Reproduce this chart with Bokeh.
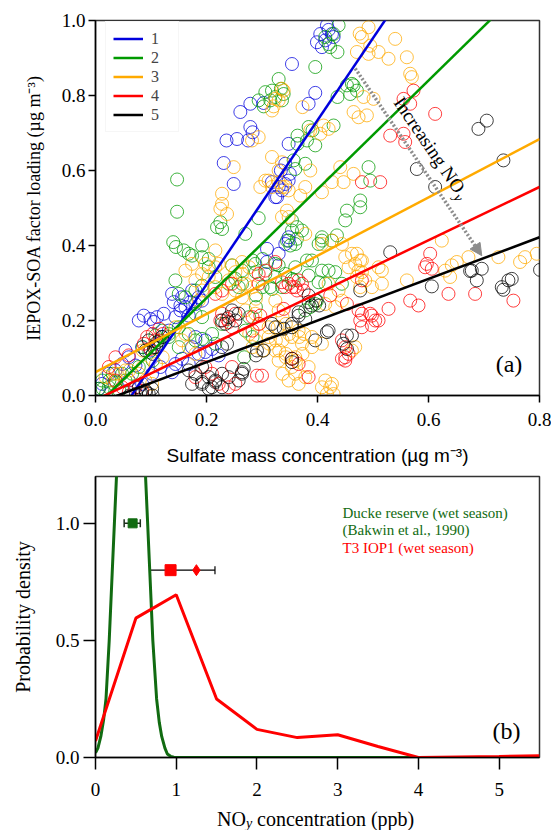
from bokeh.embed import file_html
from bokeh.layouts import column
from bokeh.models import (Arrow, ColumnDataSource, FixedTicker, Label, Legend,
                          LegendItem, NormalHead, PrintfTickFormatter, TeeHead,
                          Whisker)
from bokeh.plotting import figure
from bokeh.resources import INLINE

SERIF = "Liberation Serif"
SANS = "Liberation Sans"

# ---------------- panel (a) data ----------------
group_labels = ["1", "2", "3", "4", "5"]
group_colors = ["#0000dd", "#009a00", "#ffaa00", "#ff0000", "#000000"]

# fitted line per group: y = slope * x + intercept
fit_slope = [2.19, 1.45, 0.777, 0.71, 0.555]
fit_intercept = [-0.142, -0.03, 0.062, -0.012, -0.022]

# (sulfate, IEPOX-SOA) points
group1 = [
    (0.417, 0.987), (0.405, 0.964), (0.426, 0.964), (0.399, 0.942), (0.414, 0.947),
    (0.429, 0.956), (0.408, 0.929), (0.420, 0.975), (0.354, 0.884), (0.396, 0.807),
    (0.384, 0.778), (0.261, 0.756), (0.279, 0.778), (0.303, 0.780), (0.236, 0.680),
    (0.255, 0.684), (0.279, 0.716), (0.275, 0.680), (0.283, 0.702), (0.231, 0.620),
    (0.249, 0.564), (0.327, 0.529), (0.348, 0.671), (0.342, 0.618), (0.334, 0.600),
    (0.350, 0.591), (0.318, 0.569), (0.330, 0.556), (0.342, 0.564), (0.336, 0.547),
    (0.348, 0.573), (0.324, 0.529), (0.348, 0.422), (0.342, 0.404), (0.309, 0.391),
    (0.330, 0.378), (0.309, 0.356), (0.348, 0.413), (0.087, 0.213), (0.099, 0.204),
    (0.111, 0.209), (0.105, 0.196), (0.123, 0.218), (0.078, 0.200), (0.141, 0.249),
    (0.153, 0.240), (0.162, 0.236), (0.171, 0.249), (0.180, 0.244), (0.153, 0.227),
    (0.168, 0.213), (0.138, 0.271), (0.054, 0.120), (0.060, 0.102), (0.048, 0.084),
    (0.072, 0.080), (0.036, 0.067), (0.024, 0.058), (0.012, 0.031), (0.006, 0.018),
    (0.084, 0.129), (0.099, 0.120), (0.114, 0.138), (0.120, 0.156), (0.132, 0.173),
    (0.174, 0.129), (0.186, 0.111), (0.198, 0.116), (0.210, 0.124), (0.222, 0.107),
    (0.198, 0.147), (0.180, 0.156), (0.156, 0.098), (0.144, 0.084), (0.168, 0.084),
    (0.138, 0.062), (0.117, 0.076), (0.102, 0.058), (0.060, 0.040), (0.084, 0.031),
    (0.156, 0.262), (0.174, 0.280), (0.192, 0.253), (0.186, 0.262), (0.144, 0.209),
]
group2 = [
    (0.438, 0.987), (0.429, 0.964), (0.420, 0.937), (0.436, 0.916), (0.414, 0.956),
    (0.423, 0.929), (0.396, 0.876), (0.330, 0.844), (0.318, 0.813), (0.334, 0.818),
    (0.324, 0.796), (0.339, 0.804), (0.336, 0.787), (0.306, 0.809), (0.294, 0.787),
    (0.303, 0.771), (0.315, 0.787), (0.436, 0.796), (0.453, 0.827), (0.459, 0.804),
    (0.465, 0.827), (0.471, 0.813), (0.462, 0.831), (0.391, 0.707), (0.364, 0.693),
    (0.396, 0.667), (0.381, 0.680), (0.364, 0.671), (0.429, 0.720), (0.384, 0.716),
    (0.357, 0.627), (0.360, 0.604), (0.378, 0.618), (0.492, 0.609), (0.495, 0.573),
    (0.477, 0.520), (0.477, 0.502), (0.453, 0.493), (0.450, 0.467), (0.147, 0.576),
    (0.147, 0.490), (0.219, 0.449), (0.228, 0.444), (0.225, 0.462), (0.294, 0.473),
    (0.270, 0.431), (0.140, 0.409), (0.145, 0.396), (0.159, 0.387), (0.192, 0.400),
    (0.168, 0.378), (0.174, 0.373), (0.192, 0.369), (0.204, 0.364), (0.354, 0.467),
    (0.372, 0.440), (0.363, 0.418), (0.345, 0.413), (0.408, 0.422), (0.435, 0.427),
    (0.402, 0.404), (0.354, 0.440), (0.363, 0.449), (0.351, 0.400), (0.360, 0.404),
    (0.408, 0.413), (0.426, 0.413), (0.144, 0.307), (0.150, 0.271), (0.162, 0.262),
    (0.180, 0.280), (0.192, 0.293), (0.204, 0.342), (0.216, 0.316), (0.252, 0.311),
    (0.264, 0.298), (0.246, 0.347), (0.264, 0.333), (0.240, 0.298), (0.258, 0.289),
    (0.288, 0.351), (0.306, 0.324), (0.315, 0.289), (0.324, 0.351), (0.283, 0.360),
    (0.301, 0.364), (0.289, 0.329), (0.330, 0.347), (0.324, 0.316), (0.342, 0.324),
    (0.354, 0.311), (0.301, 0.289), (0.318, 0.284), (0.289, 0.267), (0.336, 0.289),
    (0.390, 0.360), (0.408, 0.333), (0.420, 0.333), (0.432, 0.329), (0.384, 0.320),
    (0.402, 0.302), (0.414, 0.298), (0.444, 0.298), (0.381, 0.360), (0.360, 0.342),
    (0.357, 0.307), (0.387, 0.236), (0.378, 0.227), (0.396, 0.244), (0.399, 0.253),
    (0.289, 0.236), (0.277, 0.209), (0.270, 0.173), (0.283, 0.156), (0.268, 0.102),
    (0.120, 0.173), (0.108, 0.160), (0.132, 0.156), (0.150, 0.182), (0.168, 0.164),
    (0.180, 0.147), (0.192, 0.151), (0.210, 0.164), (0.228, 0.191), (0.216, 0.138),
    (0.150, 0.129), (0.180, 0.218), (0.192, 0.209), (0.085, 0.129), (0.097, 0.116),
    (0.115, 0.147), (0.132, 0.164), (0.103, 0.093), (0.013, 0.018), (0.025, 0.040),
    (0.037, 0.036), (0.019, 0.004), (0.043, 0.013), (0.031, 0.058), (0.012, 0.040),
    (0.024, 0.022), (0.006, 0.018), (0.048, 0.058), (0.066, 0.058), (0.054, 0.040),
    (0.078, 0.076),
]
group3 = [
    (0.492, 0.982), (0.480, 0.956), (0.495, 0.933), (0.471, 0.916), (0.492, 0.911),
    (0.510, 0.916), (0.528, 0.898), (0.540, 0.951), (0.561, 0.902), (0.567, 0.858),
    (0.570, 0.849), (0.476, 0.965), (0.483, 0.796), (0.501, 0.791), (0.465, 0.756),
    (0.474, 0.742), (0.489, 0.747), (0.373, 0.769), (0.411, 0.720), (0.405, 0.698),
    (0.420, 0.711), (0.387, 0.707), (0.387, 0.600), (0.441, 0.609), (0.426, 0.569),
    (0.447, 0.569), (0.465, 0.591), (0.408, 0.542), (0.378, 0.556), (0.369, 0.533),
    (0.339, 0.813), (0.342, 0.556), (0.345, 0.493), (0.348, 0.476), (0.378, 0.431),
    (0.426, 0.413), (0.408, 0.404), (0.336, 0.818), (0.330, 0.787), (0.321, 0.771),
    (0.294, 0.689), (0.282, 0.680), (0.249, 0.609), (0.228, 0.538), (0.318, 0.636),
    (0.306, 0.573), (0.297, 0.556), (0.330, 0.569), (0.318, 0.556), (0.324, 0.791),
    (0.318, 0.760), (0.228, 0.511), (0.237, 0.484), (0.225, 0.498), (0.336, 0.622),
    (0.330, 0.600), (0.312, 0.573), (0.336, 0.556), (0.348, 0.547), (0.336, 0.476),
    (0.216, 0.387), (0.222, 0.351), (0.246, 0.347), (0.264, 0.356), (0.252, 0.329),
    (0.240, 0.307), (0.204, 0.316), (0.216, 0.289), (0.228, 0.271), (0.192, 0.280),
    (0.186, 0.253), (0.252, 0.280), (0.264, 0.262), (0.270, 0.227), (0.288, 0.218),
    (0.294, 0.191), (0.312, 0.182), (0.312, 0.156), (0.324, 0.253), (0.330, 0.227),
    (0.031, 0.040), (0.043, 0.058), (0.061, 0.067), (0.085, 0.076), (0.109, 0.084),
    (0.121, 0.102), (0.085, 0.120), (0.144, 0.182), (0.162, 0.164), (0.444, 0.404),
    (0.462, 0.378), (0.468, 0.351), (0.456, 0.342), (0.474, 0.333), (0.480, 0.360),
    (0.450, 0.369), (0.510, 0.342), (0.516, 0.298), (0.498, 0.289), (0.486, 0.307),
    (0.471, 0.316), (0.420, 0.298), (0.438, 0.280), (0.444, 0.253), (0.432, 0.236),
    (0.414, 0.244), (0.343, 0.191), (0.366, 0.173), (0.354, 0.156), (0.337, 0.147),
    (0.372, 0.138), (0.390, 0.156), (0.390, 0.129), (0.408, 0.138), (0.324, 0.120),
    (0.343, 0.111), (0.360, 0.102), (0.330, 0.093), (0.354, 0.076), (0.337, 0.058),
    (0.360, 0.058), (0.348, 0.040), (0.366, 0.031), (0.378, 0.049), (0.384, 0.076),
    (0.414, 0.040), (0.423, 0.022), (0.429, 0.004), (0.417, 0.004), (0.426, 0.031),
    (0.408, 0.022), (0.277, 0.164), (0.289, 0.147), (0.283, 0.129), (0.301, 0.120),
    (0.313, 0.138), (0.264, 0.324), (0.270, 0.298), (0.277, 0.342), (0.289, 0.258),
    (0.283, 0.289), (0.471, 0.378), (0.477, 0.360), (0.480, 0.329), (0.516, 0.333),
    (0.477, 0.289), (0.561, 0.307), (0.624, 0.413), (0.642, 0.347), (0.651, 0.356),
    (0.630, 0.333), (0.639, 0.316), (0.726, 0.369), (0.765, 0.356), (0.774, 0.369),
    (0.795, 0.378), (0.672, 0.369), (0.468, 0.129), (0.462, 0.120), (0.325, 0.147),
    (0.331, 0.120), (0.343, 0.102), (0.361, 0.093), (0.373, 0.111), (0.349, 0.164),
    (0.367, 0.156), (0.376, 0.164), (0.337, 0.209), (0.328, 0.182), (0.174, 0.351),
    (0.192, 0.324), (0.180, 0.307), (0.162, 0.333), (0.198, 0.351), (0.216, 0.342),
    (0.156, 0.147), (0.168, 0.129), (0.180, 0.111), (0.078, 0.058), (0.090, 0.040),
    (0.102, 0.031), (0.018, 0.049), (0.036, 0.058), (0.054, 0.067),
]
group4 = [
    (0.555, 0.791), (0.573, 0.813), (0.567, 0.778), (0.612, 0.751), (0.531, 0.693),
    (0.555, 0.698), (0.558, 0.676), (0.480, 0.569), (0.513, 0.569), (0.603, 0.378),
    (0.597, 0.351), (0.594, 0.342), (0.606, 0.338), (0.567, 0.253), (0.582, 0.240),
    (0.636, 0.271), (0.684, 0.271), (0.753, 0.253), (0.528, 0.231), (0.480, 0.218),
    (0.477, 0.200), (0.498, 0.213), (0.504, 0.200), (0.498, 0.187), (0.480, 0.182),
    (0.453, 0.244), (0.423, 0.267), (0.444, 0.147), (0.450, 0.129), (0.444, 0.098),
    (0.450, 0.102), (0.384, 0.049), (0.366, 0.084), (0.354, 0.098), (0.363, 0.280),
    (0.372, 0.298), (0.354, 0.289), (0.480, 0.307), (0.324, 0.356), (0.348, 0.298),
    (0.360, 0.289), (0.342, 0.289), (0.336, 0.302), (0.366, 0.307), (0.375, 0.280),
    (0.294, 0.324), (0.339, 0.231), (0.283, 0.209), (0.295, 0.191), (0.297, 0.213),
    (0.283, 0.173), (0.291, 0.053), (0.474, 0.227), (0.495, 0.218), (0.510, 0.200),
    (0.456, 0.111), (0.450, 0.093), (0.093, 0.156), (0.108, 0.147), (0.099, 0.124),
    (0.087, 0.138), (0.228, 0.218), (0.237, 0.204), (0.225, 0.200), (0.240, 0.196),
    (0.252, 0.218), (0.246, 0.182), (0.036, 0.040), (0.048, 0.022), (0.072, 0.022),
    (0.084, 0.013), (0.060, 0.009), (0.198, 0.076), (0.210, 0.058), (0.180, 0.049),
    (0.240, 0.022), (0.252, 0.031), (0.222, 0.031), (0.246, 0.076), (0.060, 0.107),
    (0.036, 0.102), (0.024, 0.076), (0.115, 0.178), (0.103, 0.164), (0.121, 0.164),
    (0.216, 0.271), (0.228, 0.280), (0.246, 0.298), (0.294, 0.298), (0.306, 0.333),
    (0.300, 0.053),
]
group5 = [
    (0.690, 0.711), (0.705, 0.733), (0.735, 0.627), (0.579, 0.604), (0.612, 0.556),
    (0.531, 0.382), (0.477, 0.280), (0.606, 0.291), (0.675, 0.332), (0.687, 0.307),
    (0.696, 0.338), (0.678, 0.333), (0.735, 0.282), (0.744, 0.307), (0.750, 0.311),
    (0.732, 0.289), (0.801, 0.335), (0.397, 0.253), (0.384, 0.249), (0.403, 0.240),
    (0.366, 0.213), (0.354, 0.182), (0.339, 0.178), (0.417, 0.169), (0.453, 0.160),
    (0.462, 0.160), (0.447, 0.138), (0.453, 0.124), (0.396, 0.147), (0.354, 0.098),
    (0.384, 0.267), (0.390, 0.240), (0.366, 0.222), (0.378, 0.204), (0.354, 0.191),
    (0.318, 0.191), (0.324, 0.182), (0.420, 0.173), (0.291, 0.120), (0.303, 0.120),
    (0.289, 0.107), (0.354, 0.089), (0.267, 0.071), (0.264, 0.062), (0.246, 0.227),
    (0.258, 0.218), (0.228, 0.200), (0.240, 0.209), (0.234, 0.191), (0.252, 0.200),
    (0.096, 0.147), (0.105, 0.129), (0.111, 0.142), (0.120, 0.156), (0.090, 0.120),
    (0.103, 0.111), (0.109, 0.129), (0.228, 0.129), (0.237, 0.138), (0.168, 0.067),
    (0.180, 0.058), (0.192, 0.076), (0.204, 0.049), (0.216, 0.040), (0.192, 0.031),
    (0.174, 0.031), (0.210, 0.022), (0.240, 0.049), (0.228, 0.058), (0.258, 0.040),
    (0.264, 0.058), (0.078, 0.022), (0.090, 0.013), (0.096, 0.004), (0.102, 0.018),
    (0.084, 0.004), (0.061, 0.000), (0.073, 0.004), (0.091, 0.009), (0.103, 0.000),
    (0.204, 0.018), (0.192, 0.036), (0.216, 0.036), (0.228, 0.022),
]
groups = [group1, group2, group3, group4, group5]

# arrow "Increasing NOy" (data coords)
arrow_start = (0.468, 0.872)
arrow_end = (0.696, 0.373)

# ---------------- panel (b) data ----------------
ducke_nov = [0.0, 0.03, 0.066, 0.10, 0.13, 0.17, 0.207, 0.234, 0.26, 0.30, 0.35,
             0.40, 0.44, 0.48, 0.53, 0.58, 0.62, 0.646, 0.673, 0.71, 0.757, 0.79,
             0.82, 0.86, 0.89, 0.93, 0.97, 1.0, 5.5]
ducke_pdf = [0.02, 0.04, 0.09, 0.16, 0.25, 0.50, 0.79, 1.0, 1.2, 1.65, 2.15,
             2.45, 2.5, 2.4, 2.05, 1.55, 1.2, 1.0, 0.79, 0.50, 0.25, 0.15,
             0.09, 0.04, 0.015, 0.005, 0.001, 0.0, 0.0]
t3_nov = [0.0, 0.5, 1.0, 1.5, 2.0, 2.5, 3.0, 3.5, 4.0, 4.5, 5.0, 5.5]
t3_pdf = [0.07, 0.595, 0.695, 0.25, 0.12, 0.085, 0.097, 0.047, 0.0, 0.002, 0.004, 0.008]

ducke_mean, ducke_low, ducke_high, ducke_level = 0.46, 0.355, 0.555, 1.0
t3_median, t3_mean, t3_low, t3_high, t3_level = 0.93, 1.25, 0.68, 1.48, 0.8

ducke_color = "#116b11"
t3_color = "#ff0000"
note_texts = ["Ducke reserve (wet season)", "(Bakwin et al., 1990)", "T3 IOP1 (wet season)"]
note_colors = [ducke_color, ducke_color, t3_color]
note_y = [1.044, 0.970, 0.896]


def style_axes(p, tick_out):
    p.grid.visible = False
    p.outline_line_color = "#333333"
    p.outline_line_width = 1.5
    for ax in p.axis:
        ax.axis_line_width = 1.5
        ax.axis_line_color = "black"
        ax.major_tick_out = tick_out
        ax.major_tick_in = 0
        ax.major_tick_line_width = 1.5
        ax.minor_tick_line_color = None
        ax.major_label_text_font = SERIF
        ax.major_label_text_font_size = "19px"
        ax.major_label_text_color = "black"
        ax.axis_label_text_font = SERIF
        ax.axis_label_text_font_size = "20px"
        ax.axis_label_text_font_style = "normal"
        ax.axis_label_text_color = "black"


# ---------------- panel (a) ----------------
p1 = figure(width=551, height=470, x_range=(0, 0.8), y_range=(0, 1.0),
            output_backend="svg", toolbar_location=None,
            min_border_left=93, min_border_right=12, min_border_top=20,
            min_border_bottom=75)
style_axes(p1, 7)
p1.xaxis.ticker = FixedTicker(ticks=[0, 0.2, 0.4, 0.6, 0.8])
p1.yaxis.ticker = FixedTicker(ticks=[0, 0.2, 0.4, 0.6, 0.8, 1.0])
p1.xaxis.formatter = PrintfTickFormatter(format="%.1f")
p1.yaxis.formatter = PrintfTickFormatter(format="%.1f")
p1.xaxis.axis_label = "Sulfate mass concentration (\u00b5g m\u207b\u00b3)"
p1.xaxis.axis_label_text_font = SANS
p1.xaxis.axis_label_text_font_size = "19px"
p1.yaxis.axis_label = "IEPOX-SOA factor loading (\u00b5g m\u207b\u00b3)"
p1.yaxis.axis_label_text_font_size = "18px"
p1.xaxis.major_label_standoff = 10
p1.xaxis.axis_label_standoff = 16
p1.yaxis.major_label_standoff = 3
p1.yaxis.axis_label_standoff = 15

for pts, color in zip(groups, group_colors):
    xs, ys = zip(*pts)
    p1.scatter(list(xs), list(ys), marker="circle", size=13, fill_color=None,
               line_color=color, line_width=1, line_alpha=0.75)

legend_items = []
for lbl, color, m, b in zip(group_labels, group_colors, fit_slope, fit_intercept):
    r = p1.line([0, 0.8], [b, b + m * 0.8], line_color=color, line_width=2.5)
    legend_items.append(LegendItem(label=lbl, renderers=[r]))

legend = Legend(items=legend_items, location=(10, 263),
                label_text_font=SERIF, label_text_font_size="16px",
                glyph_width=30, glyph_height=19, label_height=19, spacing=0,
                padding=7, label_standoff=8, border_line_color="#eeeeee",
                background_fill_color="white", background_fill_alpha=1)
p1.add_layout(legend)

p1.add_layout(Arrow(end=NormalHead(size=12, fill_color="#8c8c8c", line_color="#8c8c8c"),
                    x_start=arrow_start[0], y_start=arrow_start[1],
                    x_end=arrow_end[0], y_end=arrow_end[1],
                    line_color="#8c8c8c", line_width=3.5, line_dash="2 2"))
p1.add_layout(Label(x=0.602, y=0.668, text="Increasing NO", angle=-0.974,
                    text_font=SERIF, text_font_size="19px", text_align="center",
                    text_baseline="middle", text_color="black"))
p1.add_layout(Label(x=0.602, y=0.668, text="y", angle=-0.974, x_offset=27,
                    y_offset=-50, text_font=SERIF, text_font_size="14px",
                    text_font_style="italic", text_align="left",
                    text_baseline="middle", text_color="black"))
p1.add_layout(Label(x=0.745, y=0.085, text="(a)", text_font=SERIF,
                    text_font_size="24px", text_align="center",
                    text_baseline="middle", text_color="black"))

# ---------------- panel (b) ----------------
p2 = figure(width=551, height=335, x_range=(0, 5.5), y_range=(0, 1.2),
            output_backend="svg", toolbar_location=None,
            min_border_left=95, min_border_right=9, min_border_top=6,
            min_border_bottom=48)
style_axes(p2, 12)
p2.xaxis.ticker = FixedTicker(ticks=[0, 1, 2, 3, 4, 5])
p2.yaxis.ticker = FixedTicker(ticks=[0, 0.5, 1.0])
p2.xaxis.formatter = PrintfTickFormatter(format="%d")
p2.yaxis.formatter = PrintfTickFormatter(format="%.1f")
p2.yaxis.axis_label = "Probability density"
p2.xaxis.major_label_standoff = 13
p2.yaxis.major_label_standoff = 4
p2.yaxis.axis_label_standoff = 19

p2.line(ducke_nov, ducke_pdf, line_color=ducke_color, line_width=3)
p2.line(t3_nov, t3_pdf, line_color=t3_color, line_width=3)

ducke_src = ColumnDataSource(dict(base=[ducke_level], lower=[ducke_low], upper=[ducke_high]))
p2.add_layout(Whisker(source=ducke_src, base="base", lower="lower", upper="upper",
                      dimension="width", line_color="#1c2e1c", line_width=1.5,
                      upper_head=TeeHead(size=8, line_color="#1c2e1c", line_width=1.5),
                      lower_head=TeeHead(size=8, line_color="#1c2e1c", line_width=1.5)))
t3_src = ColumnDataSource(dict(base=[t3_level], lower=[t3_low], upper=[t3_high]))
p2.add_layout(Whisker(source=t3_src, base="base", lower="lower", upper="upper",
                      dimension="width", line_color="black", line_width=1.2,
                      upper_head=TeeHead(size=8, line_color="black", line_width=1.2),
                      lower_head=TeeHead(size=8, line_color="black", line_width=1.2)))
p2.scatter([ducke_mean], [ducke_level], marker="square", size=9, color=ducke_color)
p2.scatter([t3_median], [t3_level], marker="square", size=11, color=t3_color)
p2.scatter([t3_mean], [t3_level], marker="diamond", size=11, color=t3_color)

for txt, col, yy in zip(note_texts, note_colors, note_y):
    p2.add_layout(Label(x=3.06, y=yy, text=txt, text_font=SERIF,
                        text_font_size="15px", text_color=col,
                        text_align="left", text_baseline="middle"))
p2.add_layout(Label(x=5.09, y=0.115, text="(b)", text_font=SERIF,
                    text_font_size="24px", text_align="center",
                    text_baseline="middle", text_color="black"))

# ---------------- x title of panel (b), with subscript ----------------
p3 = figure(width=551, height=25, x_range=p2.x_range, y_range=(0, 25),
            output_backend="svg", toolbar_location=None,
            min_border_left=95, min_border_right=9, min_border_top=0,
            min_border_bottom=0)
p3.axis.visible = False
p3.grid.visible = False
p3.outline_line_color = None

xlab_x, xlab_y = 1.506, 12
p3.add_layout(Label(x=xlab_x, y=xlab_y, text="NO", text_font=SERIF,
                    text_font_size="20px", text_align="left",
                    text_baseline="middle", text_color="black"))
p3.add_layout(Label(x=xlab_x, y=xlab_y, text="y", x_offset=29, y_offset=-5,
                    text_font=SERIF, text_font_size="14px", text_font_style="italic",
                    text_align="left", text_baseline="middle", text_color="black"))
p3.add_layout(Label(x=xlab_x, y=xlab_y, text="concentration (ppb)", x_offset=40,
                    text_font=SERIF, text_font_size="20px", text_align="left",
                    text_baseline="middle", text_color="black"))

layout = column(p1, p2, p3)
open("out.html", "w").write(file_html(layout, INLINE))
